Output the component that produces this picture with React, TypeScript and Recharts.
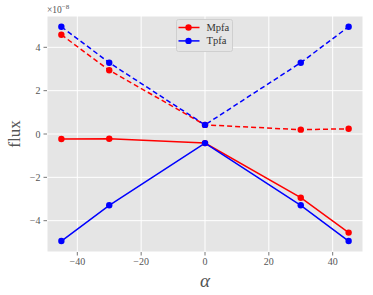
import React from 'react';
import { LineChart, Line, XAxis, YAxis, CartesianGrid, Label } from 'recharts';

const alphas = [-45, -30, 0, 30, 45];
const mpfaSolid = [-0.23e-8, -0.22e-8, -0.42e-8, -2.94e-8, -4.55e-8];
const mpfaDashed = [4.58e-8, 2.94e-8, 0.42e-8, 0.2e-8, 0.24e-8];
const tpfaSolid = [-4.94e-8, -3.29e-8, -0.42e-8, -3.29e-8, -4.94e-8];
const tpfaDashed = [4.95e-8, 3.29e-8, 0.42e-8, 3.29e-8, 4.95e-8];

const xTicks = [-40, -20, 0, 20, 40];
const yTicks = [-4e-8, -2e-8, 0, 2e-8, 4e-8];
const legendItems = [
  { name: 'Mpfa', color: '#FF0000' },
  { name: 'Tpfa', color: '#0000FF' },
];

const data = alphas.map((a, i) => ({
  alpha: a,
  mpfaSolid: mpfaSolid[i],
  mpfaDashed: mpfaDashed[i],
  tpfaSolid: tpfaSolid[i],
  tpfaDashed: tpfaDashed[i],
}));

const FONT = '"Liberation Serif", "DejaVu Serif", serif';
const fmtY = (v: number) => {
  const n = Math.round(v / 1e-8);
  return n < 0 ? `\u2212${-n}` : `${n}`;
};
const fmtX = (v: number) => (v < 0 ? `\u2212${-v}` : `${v}`);

const LegendBox = () => (
  <svg width={58} height={34} style={{ display: 'block' }}>
    <rect x={0.5} y={0.5} width={56} height={32} rx={2} fill="#E5E5E5" stroke="#CFCFCF" strokeWidth={1} />
    {legendItems.map((it, i) => {
      const y = 8.5 + i * 13.4;
      return (
        <g key={it.name}>
          <line x1={2.5} x2={23.5} y1={y} y2={y} stroke={it.color} strokeWidth={1.5} />
          <circle cx={12.5} cy={y} r={3.2} fill={it.color} />
          <text x={30.5} y={y + 3.5} fontFamily={FONT} fontSize={10.5} fill="#333">
            {it.name}
          </text>
        </g>
      );
    })}
  </svg>
);

const OffsetLabel = () => (
  <text x={47} y={13} fontFamily={FONT} fontSize={9.5} fill="#555">
    ×10
    <tspan dy={-4} fontSize={7}>−8</tspan>
  </text>
);

const FluxLabel = () => (
  <text
    x={0}
    y={0}
    transform="translate(19.5,134) rotate(-90)"
    textAnchor="middle"
    fontFamily={FONT}
    fontSize={17}
    fill="#555"
  >
    flux
  </text>
);

export default function App() {
  return (
    <div style={{ position: 'absolute', left: 0, top: 0, width: 373, height: 295, background: '#fff' }}>
      <LineChart
        width={373}
        height={295}
        data={data}
        margin={{ top: 16, right: 10, left: 0, bottom: 0 }}
      >
        <CartesianGrid stroke="#FFFFFF" strokeWidth={1} fill="#E5E5E5" />
        <XAxis
          dataKey="alpha"
          type="number"
          domain={[-49.5, 49.5]}
          ticks={xTicks}
          tickFormatter={fmtX}
          axisLine={false}
          tickLine={{ stroke: '#555', strokeWidth: 0.8 }}
          tickSize={3.5}
          tickMargin={2}
          height={43}
          tick={{ fontFamily: FONT, fontSize: 10, fill: '#555' }}
        >
          <Label
            value="α"
            position="insideBottom"
            offset={8}
            style={{ fontFamily: FONT, fontSize: 19, fontStyle: 'italic', fill: '#555' }}
          />
        </XAxis>
        <YAxis
          type="number"
          domain={[-5.445e-8, 5.445e-8]}
          ticks={yTicks}
          tickFormatter={fmtY}
          axisLine={false}
          tickLine={{ stroke: '#555', strokeWidth: 0.8 }}
          tickSize={3.5}
          tickMargin={3}
          width={47}
          tick={{ fontFamily: FONT, fontSize: 10, fill: '#555' }}
        >
          <Label content={<FluxLabel />} />
          <Label content={<OffsetLabel />} />
        </YAxis>
        <Line dataKey="mpfaSolid" stroke="#FF0000" strokeWidth={1.5} dot={{ r: 3.2, fill: '#FF0000', stroke: '#FF0000', strokeWidth: 0 }} isAnimationActive={false} />
        <Line dataKey="mpfaDashed" stroke="#FF0000" strokeWidth={1.5} strokeDasharray="5 3" dot={{ r: 3.2, fill: '#FF0000', stroke: '#FF0000', strokeWidth: 0 }} isAnimationActive={false} />
        <Line dataKey="tpfaSolid" stroke="#0000FF" strokeWidth={1.5} dot={{ r: 3.2, fill: '#0000FF', stroke: '#0000FF', strokeWidth: 0 }} isAnimationActive={false} />
        <Line dataKey="tpfaDashed" stroke="#0000FF" strokeWidth={1.5} strokeDasharray="5 3" dot={{ r: 3.2, fill: '#0000FF', stroke: '#0000FF', strokeWidth: 0 }} isAnimationActive={false} />
      </LineChart>
      <div style={{ position: 'absolute', left: 176, top: 19 }}>
        <LegendBox />
      </div>
    </div>
  );
}
